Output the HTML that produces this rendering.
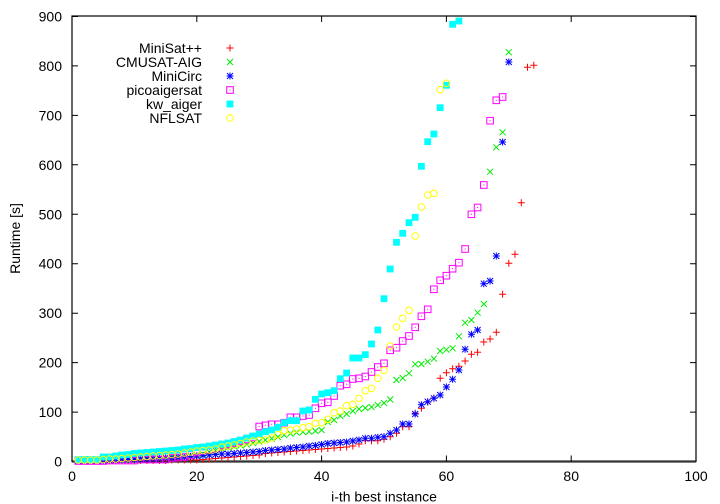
<!DOCTYPE html>
<html><head><meta charset="utf-8"><style>
html,body{margin:0;padding:0;background:#fff;}
svg{display:block;}
text{font-family:"Liberation Sans",Arial,sans-serif;font-size:14px;fill:#000;}
</style></head><body>
<svg width="720" height="504" viewBox="0 0 720 504" xmlns="http://www.w3.org/2000/svg">
<defs>
<path id="r" d="M-3.5 0H3.5M0-3.5V3.5" stroke="#ff0000" stroke-width="1" fill="none"/>
<path id="g" d="M-3 -3L3 3M-3 3L3 -3" stroke="#00ee00" stroke-width="1" fill="none"/>
<path id="b" d="M-3.5 0H3.5M0-3.5V3.5M-3 -3L3 3M-3 3L3 -3" stroke="#0000ff" stroke-width="1" fill="none"/>
<g id="m"><rect x="-3.3" y="-3.3" width="6.6" height="6.6" stroke="#ff00ff" stroke-width="1" fill="none"/><rect x="-0.5" y="-0.5" width="1" height="1" fill="#ff00ff"/></g>
<rect id="c" x="-3.4" y="-3.4" width="6.8" height="6.8" fill="#00ffff"/>
<circle id="y" r="3.3" stroke="#ffff00" stroke-width="1" fill="none"/>
</defs>
<rect width="720" height="504" fill="#fff"/>

<!-- border -->
<rect x="72" y="16" width="624" height="445.5" fill="none" stroke="#000" stroke-width="1.2"/>
<line x1="72" y1="461.5" x2="696" y2="461.5" stroke="#333" stroke-width="2.2"/>

<!-- ticks -->
<g stroke="#000" stroke-width="1">
<path d="M72 461.5v-6M196.8 461.5v-6M321.6 461.5v-6M446.4 461.5v-6M571.2 461.5v-6M696 461.5v-6"/>
<path d="M72 16v6M196.8 16v6M321.6 16v6M446.4 16v6M571.2 16v6M696 16v6"/>
<path d="M72 412.1h6M72 362.6h6M72 313.2h6M72 263.7h6M72 214.3h6M72 164.8h6M72 115.4h6M72 65.9h6M72 16.5h6"/>
<path d="M696 412.1h-6M696 362.6h-6M696 313.2h-6M696 263.7h-6M696 214.3h-6M696 164.8h-6M696 115.4h-6M696 65.9h-6M696 16.5h-6"/>
</g>

<!-- y tick labels -->
<g text-anchor="end">
<text x="62" y="466.5">0</text>
<text x="62" y="417.1">100</text>
<text x="62" y="367.6">200</text>
<text x="62" y="318.2">300</text>
<text x="62" y="268.7">400</text>
<text x="62" y="219.3">500</text>
<text x="62" y="169.8">600</text>
<text x="62" y="120.4">700</text>
<text x="62" y="70.9">800</text>
<text x="62" y="21.5">900</text>
</g>
<!-- x tick labels -->
<g text-anchor="middle">
<text x="72" y="481">0</text>
<text x="196.8" y="481">20</text>
<text x="321.6" y="481">40</text>
<text x="446.4" y="481">60</text>
<text x="571.2" y="481">80</text>
<text x="696" y="481">100</text>
<text x="384" y="501.5">i-th best instance</text>
</g>
<text text-anchor="middle" transform="translate(20,238.5) rotate(-90)">Runtime [s]</text>

<!-- legend -->
<g text-anchor="end">
<text x="202" y="53">MiniSat++</text>
<text x="202" y="67">CMUSAT-AIG</text>
<text x="202" y="81">MiniCirc</text>
<text x="202" y="95">picoaigersat</text>
<text x="202" y="109">kw_aiger</text>
<text x="202" y="123">NFLSAT</text>
</g>
<use href="#r" x="230" y="48"/>
<use href="#g" x="230" y="62"/>
<use href="#b" x="230" y="76"/>
<use href="#m" x="230" y="90"/>
<use href="#c" x="230" y="104"/>
<use href="#y" x="230" y="118"/>

<!-- MiniSat++ -->
<g>
<use href="#r" x="78.2" y="461"/><use href="#r" x="84.5" y="461"/><use href="#r" x="90.7" y="461"/><use href="#r" x="97.0" y="461"/><use href="#r" x="103.2" y="461"/><use href="#r" x="109.4" y="461"/><use href="#r" x="115.7" y="461"/><use href="#r" x="121.9" y="461"/><use href="#r" x="128.2" y="461"/><use href="#r" x="134.4" y="461"/>
<use href="#r" x="140.6" y="460.5"/><use href="#r" x="146.9" y="460.5"/><use href="#r" x="153.1" y="460.5"/><use href="#r" x="159.4" y="460.5"/><use href="#r" x="165.6" y="460.5"/><use href="#r" x="171.8" y="460"/><use href="#r" x="178.1" y="460"/><use href="#r" x="184.3" y="460"/><use href="#r" x="190.6" y="460"/><use href="#r" x="196.8" y="460"/>
<use href="#r" x="203.0" y="459.5"/><use href="#r" x="209.3" y="459"/><use href="#r" x="215.5" y="458.5"/><use href="#r" x="221.8" y="458"/><use href="#r" x="228.0" y="457.5"/><use href="#r" x="234.2" y="457"/><use href="#r" x="240.5" y="456.5"/><use href="#r" x="246.7" y="456"/><use href="#r" x="253.0" y="455.5"/><use href="#r" x="259.2" y="455"/>
<use href="#r" x="265.4" y="453.5"/><use href="#r" x="271.7" y="453"/><use href="#r" x="277.9" y="452.5"/><use href="#r" x="284.2" y="452"/><use href="#r" x="290.4" y="451.5"/><use href="#r" x="296.6" y="451"/><use href="#r" x="302.9" y="450.5"/><use href="#r" x="309.1" y="450"/><use href="#r" x="315.4" y="449.5"/><use href="#r" x="321.6" y="449"/>
<use href="#r" x="327.8" y="448.5"/><use href="#r" x="334.1" y="448"/><use href="#r" x="340.3" y="447.5"/><use href="#r" x="346.6" y="447"/><use href="#r" x="352.8" y="446"/><use href="#r" x="359.0" y="444"/><use href="#r" x="365.3" y="440.7"/><use href="#r" x="371.5" y="440.7"/><use href="#r" x="377.8" y="440.7"/><use href="#r" x="384.0" y="439.3"/>
<use href="#r" x="390.2" y="436.7"/><use href="#r" x="396.5" y="433.3"/><use href="#r" x="402.7" y="426.7"/><use href="#r" x="409.0" y="426.7"/><use href="#r" x="415.2" y="413.3"/><use href="#r" x="421.4" y="408.3"/><use href="#r" x="427.7" y="402"/><use href="#r" x="433.9" y="398"/><use href="#r" x="440.2" y="378.3"/><use href="#r" x="446.4" y="372.7"/>
<use href="#r" x="452.6" y="368.7"/><use href="#r" x="458.9" y="366.3"/><use href="#r" x="465.1" y="361"/><use href="#r" x="471.4" y="354.3"/><use href="#r" x="477.6" y="352.3"/><use href="#r" x="483.8" y="342"/><use href="#r" x="490.1" y="339"/><use href="#r" x="496.3" y="332.3"/><use href="#r" x="502.6" y="294.3"/><use href="#r" x="508.8" y="263.3"/>
<use href="#r" x="515.0" y="254.3"/><use href="#r" x="521.3" y="202.7"/><use href="#r" x="527.5" y="67.3"/><use href="#r" x="533.8" y="65.3"/>
</g>

<!-- CMUSAT-AIG -->
<g>
<use href="#g" x="78.2" y="461"/><use href="#g" x="84.5" y="461"/><use href="#g" x="90.7" y="461"/><use href="#g" x="97.0" y="461"/><use href="#g" x="103.2" y="461"/><use href="#g" x="109.4" y="460.5"/><use href="#g" x="115.7" y="460"/><use href="#g" x="121.9" y="460"/><use href="#g" x="128.2" y="459.5"/><use href="#g" x="134.4" y="459"/>
<use href="#g" x="140.6" y="459"/><use href="#g" x="146.9" y="458.5"/><use href="#g" x="153.1" y="458"/><use href="#g" x="159.4" y="458"/><use href="#g" x="165.6" y="457.5"/><use href="#g" x="171.8" y="457"/><use href="#g" x="178.1" y="457"/><use href="#g" x="184.3" y="456.5"/><use href="#g" x="190.6" y="455.5"/><use href="#g" x="196.8" y="455"/>
<use href="#g" x="203.0" y="454"/><use href="#g" x="209.3" y="452"/><use href="#g" x="215.5" y="450.5"/><use href="#g" x="221.8" y="449"/><use href="#g" x="228.0" y="447.5"/><use href="#g" x="234.2" y="446.5"/><use href="#g" x="240.5" y="445.5"/><use href="#g" x="246.7" y="444.5"/><use href="#g" x="253.0" y="443"/><use href="#g" x="259.2" y="441.5"/>
<use href="#g" x="265.4" y="440"/><use href="#g" x="271.7" y="438.5"/><use href="#g" x="277.9" y="437"/><use href="#g" x="284.2" y="435"/><use href="#g" x="290.4" y="433.5"/><use href="#g" x="296.6" y="432.5"/><use href="#g" x="302.9" y="432"/><use href="#g" x="309.1" y="431.5"/><use href="#g" x="315.4" y="431"/><use href="#g" x="321.6" y="430"/>
<use href="#g" x="327.8" y="422"/><use href="#g" x="334.1" y="420"/><use href="#g" x="340.3" y="416"/><use href="#g" x="346.6" y="414"/><use href="#g" x="352.8" y="411"/><use href="#g" x="359.0" y="409"/><use href="#g" x="365.3" y="408"/><use href="#g" x="371.5" y="407"/><use href="#g" x="377.8" y="405"/><use href="#g" x="384.0" y="403"/>
<use href="#g" x="390.2" y="399.5"/><use href="#g" x="396.5" y="380"/><use href="#g" x="402.7" y="378"/><use href="#g" x="409.0" y="373.3"/><use href="#g" x="415.2" y="364.3"/><use href="#g" x="421.4" y="364"/><use href="#g" x="427.7" y="361.7"/><use href="#g" x="433.9" y="358.7"/><use href="#g" x="440.2" y="351"/><use href="#g" x="446.4" y="349.7"/>
<use href="#g" x="452.6" y="348.3"/><use href="#g" x="458.9" y="336.3"/><use href="#g" x="465.1" y="322.7"/><use href="#g" x="471.4" y="320"/><use href="#g" x="477.6" y="312.7"/><use href="#g" x="483.8" y="304"/><use href="#g" x="490.1" y="171.7"/><use href="#g" x="496.3" y="147.3"/><use href="#g" x="502.6" y="132.3"/><use href="#g" x="508.8" y="52.3"/>
</g>

<!-- MiniCirc -->
<g>
<use href="#b" x="78.2" y="461"/><use href="#b" x="84.5" y="461"/><use href="#b" x="90.7" y="461"/><use href="#b" x="97.0" y="461"/><use href="#b" x="103.2" y="461"/><use href="#b" x="109.4" y="460.5"/><use href="#b" x="115.7" y="460.5"/><use href="#b" x="121.9" y="460"/><use href="#b" x="128.2" y="459.5"/><use href="#b" x="134.4" y="459.5"/>
<use href="#b" x="140.6" y="459"/><use href="#b" x="146.9" y="459"/><use href="#b" x="153.1" y="458.5"/><use href="#b" x="159.4" y="458.5"/><use href="#b" x="165.6" y="458"/><use href="#b" x="171.8" y="458"/><use href="#b" x="178.1" y="457.5"/><use href="#b" x="184.3" y="457"/><use href="#b" x="190.6" y="456.5"/><use href="#b" x="196.8" y="456"/>
<use href="#b" x="203.0" y="455.5"/><use href="#b" x="209.3" y="455"/><use href="#b" x="215.5" y="454.5"/><use href="#b" x="221.8" y="454"/><use href="#b" x="228.0" y="454"/><use href="#b" x="234.2" y="453.5"/><use href="#b" x="240.5" y="453"/><use href="#b" x="246.7" y="452.5"/><use href="#b" x="253.0" y="452"/><use href="#b" x="259.2" y="451.5"/>
<use href="#b" x="265.4" y="450.5"/><use href="#b" x="271.7" y="450"/><use href="#b" x="277.9" y="449.5"/><use href="#b" x="284.2" y="449"/><use href="#b" x="290.4" y="448"/><use href="#b" x="296.6" y="447.5"/><use href="#b" x="302.9" y="447"/><use href="#b" x="309.1" y="446"/><use href="#b" x="315.4" y="445.5"/><use href="#b" x="321.6" y="444.5"/>
<use href="#b" x="327.8" y="443.5"/><use href="#b" x="334.1" y="443"/><use href="#b" x="340.3" y="442.5"/><use href="#b" x="346.6" y="442"/><use href="#b" x="352.8" y="441"/><use href="#b" x="359.0" y="440"/><use href="#b" x="365.3" y="438.3"/><use href="#b" x="371.5" y="438.3"/><use href="#b" x="377.8" y="437.3"/><use href="#b" x="384.0" y="436.7"/>
<use href="#b" x="390.2" y="433.3"/><use href="#b" x="396.5" y="430"/><use href="#b" x="402.7" y="424"/><use href="#b" x="409.0" y="424"/><use href="#b" x="415.2" y="414"/><use href="#b" x="421.4" y="404.7"/><use href="#b" x="427.7" y="401.7"/><use href="#b" x="433.9" y="398.3"/><use href="#b" x="440.2" y="395"/><use href="#b" x="446.4" y="387"/>
<use href="#b" x="452.6" y="379.3"/><use href="#b" x="458.9" y="370"/><use href="#b" x="465.1" y="349.3"/><use href="#b" x="471.4" y="334.3"/><use href="#b" x="477.6" y="330"/><use href="#b" x="483.8" y="283.7"/><use href="#b" x="490.1" y="281"/><use href="#b" x="496.3" y="256"/><use href="#b" x="502.6" y="142"/><use href="#b" x="508.8" y="62"/>
</g>

<!-- picoaigersat -->
<g>
<use href="#m" x="78.2" y="461"/><use href="#m" x="84.5" y="461"/><use href="#m" x="90.7" y="461"/><use href="#m" x="97.0" y="461"/><use href="#m" x="103.2" y="461"/><use href="#m" x="109.4" y="460.5"/><use href="#m" x="115.7" y="460.5"/><use href="#m" x="121.9" y="460.5"/><use href="#m" x="128.2" y="460.5"/><use href="#m" x="134.4" y="460.5"/>
<use href="#m" x="140.6" y="459.5"/><use href="#m" x="146.9" y="459.5"/><use href="#m" x="153.1" y="459.5"/><use href="#m" x="159.4" y="459.5"/><use href="#m" x="165.6" y="459.5"/><use href="#m" x="171.8" y="458"/><use href="#m" x="178.1" y="457.5"/><use href="#m" x="184.3" y="457"/><use href="#m" x="190.6" y="455"/><use href="#m" x="196.8" y="452.5"/>
<use href="#m" x="203.0" y="450.5"/><use href="#m" x="209.3" y="449.5"/><use href="#m" x="215.5" y="448.5"/><use href="#m" x="221.8" y="445.5"/><use href="#m" x="228.0" y="444.5"/><use href="#m" x="234.2" y="443"/><use href="#m" x="240.5" y="441"/><use href="#m" x="246.7" y="439.5"/><use href="#m" x="253.0" y="437.5"/><use href="#m" x="259.2" y="426.5"/>
<use href="#m" x="265.4" y="425.3"/><use href="#m" x="271.7" y="424.3"/><use href="#m" x="277.9" y="424.3"/><use href="#m" x="284.2" y="422.7"/><use href="#m" x="290.4" y="417.3"/><use href="#m" x="296.6" y="417.3"/><use href="#m" x="302.9" y="416"/><use href="#m" x="309.1" y="415"/><use href="#m" x="315.4" y="408.3"/><use href="#m" x="321.6" y="403.3"/>
<use href="#m" x="327.8" y="402.3"/><use href="#m" x="334.1" y="396"/><use href="#m" x="340.3" y="385.7"/><use href="#m" x="346.6" y="384.3"/><use href="#m" x="352.8" y="379"/><use href="#m" x="359.0" y="378.3"/><use href="#m" x="365.3" y="376.5"/><use href="#m" x="371.5" y="372"/><use href="#m" x="377.8" y="367"/><use href="#m" x="384.0" y="363.3"/>
<use href="#m" x="390.2" y="350.3"/><use href="#m" x="396.5" y="347.7"/><use href="#m" x="402.7" y="341"/><use href="#m" x="409.0" y="336"/><use href="#m" x="415.2" y="327.3"/><use href="#m" x="421.4" y="316.3"/><use href="#m" x="427.7" y="309.3"/><use href="#m" x="433.9" y="289.3"/><use href="#m" x="440.2" y="280.3"/><use href="#m" x="446.4" y="275.7"/>
<use href="#m" x="452.6" y="268.7"/><use href="#m" x="458.9" y="262.7"/><use href="#m" x="465.1" y="249"/><use href="#m" x="471.4" y="214.3"/><use href="#m" x="477.6" y="207.5"/><use href="#m" x="483.8" y="185"/><use href="#m" x="490.1" y="120.7"/><use href="#m" x="496.3" y="100.3"/><use href="#m" x="502.6" y="97"/>
</g>

<!-- kw_aiger -->
<g>
<use href="#c" x="78.2" y="459.5"/><use href="#c" x="84.5" y="459.5"/><use href="#c" x="90.7" y="459.5"/><use href="#c" x="97.0" y="459.5"/><use href="#c" x="103.2" y="457"/><use href="#c" x="109.4" y="457"/><use href="#c" x="115.7" y="456"/><use href="#c" x="121.9" y="455"/><use href="#c" x="128.2" y="454.5"/><use href="#c" x="134.4" y="453.5"/>
<use href="#c" x="140.6" y="453"/><use href="#c" x="146.9" y="452.5"/><use href="#c" x="153.1" y="452"/><use href="#c" x="159.4" y="451.5"/><use href="#c" x="165.6" y="451"/><use href="#c" x="171.8" y="450.5"/><use href="#c" x="178.1" y="450"/><use href="#c" x="184.3" y="449"/><use href="#c" x="190.6" y="448.5"/><use href="#c" x="196.8" y="447.5"/>
<use href="#c" x="203.0" y="447"/><use href="#c" x="209.3" y="446"/><use href="#c" x="215.5" y="445"/><use href="#c" x="221.8" y="444"/><use href="#c" x="228.0" y="443"/><use href="#c" x="234.2" y="441.5"/><use href="#c" x="240.5" y="440"/><use href="#c" x="246.7" y="438"/><use href="#c" x="253.0" y="436"/><use href="#c" x="259.2" y="434"/>
<use href="#c" x="265.4" y="431.7"/><use href="#c" x="271.7" y="430"/><use href="#c" x="277.9" y="427.3"/><use href="#c" x="284.2" y="422.7"/><use href="#c" x="290.4" y="420.7"/><use href="#c" x="296.6" y="420.7"/><use href="#c" x="302.9" y="411"/><use href="#c" x="309.1" y="410"/><use href="#c" x="315.4" y="399.3"/><use href="#c" x="321.6" y="394"/>
<use href="#c" x="327.8" y="392.7"/><use href="#c" x="334.1" y="390.7"/><use href="#c" x="340.3" y="378.7"/><use href="#c" x="346.6" y="373"/><use href="#c" x="352.8" y="358"/><use href="#c" x="359.0" y="358"/><use href="#c" x="365.3" y="354.7"/><use href="#c" x="371.5" y="344"/><use href="#c" x="377.8" y="330"/><use href="#c" x="384.0" y="298.7"/>
<use href="#c" x="390.2" y="269"/><use href="#c" x="396.5" y="242.3"/><use href="#c" x="402.7" y="233.3"/><use href="#c" x="409.0" y="222.7"/><use href="#c" x="415.2" y="217.3"/><use href="#c" x="421.4" y="166.3"/><use href="#c" x="427.7" y="141.7"/><use href="#c" x="433.9" y="134"/><use href="#c" x="440.2" y="107.7"/><use href="#c" x="446.4" y="85.3"/>
<use href="#c" x="452.6" y="24.3"/><use href="#c" x="458.9" y="21"/>
</g>

<!-- NFLSAT -->
<g>
<use href="#y" x="78.2" y="460"/><use href="#y" x="84.5" y="460"/><use href="#y" x="90.7" y="460"/><use href="#y" x="97.0" y="460"/><use href="#y" x="103.2" y="459.5"/><use href="#y" x="109.4" y="459"/><use href="#y" x="115.7" y="459"/><use href="#y" x="121.9" y="458.5"/><use href="#y" x="128.2" y="458"/><use href="#y" x="134.4" y="457.5"/>
<use href="#y" x="140.6" y="457"/><use href="#y" x="146.9" y="456.5"/><use href="#y" x="153.1" y="456"/><use href="#y" x="159.4" y="455.5"/><use href="#y" x="165.6" y="455"/><use href="#y" x="171.8" y="454.5"/><use href="#y" x="178.1" y="454"/><use href="#y" x="184.3" y="453"/><use href="#y" x="190.6" y="452"/><use href="#y" x="196.8" y="451"/>
<use href="#y" x="203.0" y="450.5"/><use href="#y" x="209.3" y="450"/><use href="#y" x="215.5" y="449"/><use href="#y" x="221.8" y="447"/><use href="#y" x="228.0" y="446"/><use href="#y" x="234.2" y="445"/><use href="#y" x="240.5" y="443.5"/><use href="#y" x="246.7" y="442"/><use href="#y" x="253.0" y="441"/><use href="#y" x="259.2" y="440.5"/>
<use href="#y" x="265.4" y="440"/><use href="#y" x="271.7" y="438"/><use href="#y" x="277.9" y="434.7"/><use href="#y" x="284.2" y="430.7"/><use href="#y" x="290.4" y="430"/><use href="#y" x="296.6" y="429"/><use href="#y" x="302.9" y="427.7"/><use href="#y" x="309.1" y="426.7"/><use href="#y" x="315.4" y="423.3"/><use href="#y" x="321.6" y="422.7"/>
<use href="#y" x="327.8" y="419.3"/><use href="#y" x="334.1" y="412.7"/><use href="#y" x="340.3" y="411"/><use href="#y" x="346.6" y="405.7"/><use href="#y" x="352.8" y="404.3"/><use href="#y" x="359.0" y="398.3"/><use href="#y" x="365.3" y="390.7"/><use href="#y" x="371.5" y="388.3"/><use href="#y" x="377.8" y="378.3"/><use href="#y" x="384.0" y="370.3"/>
<use href="#y" x="390.2" y="346"/><use href="#y" x="396.5" y="327"/><use href="#y" x="402.7" y="318.3"/><use href="#y" x="409.0" y="310.3"/><use href="#y" x="415.2" y="236"/><use href="#y" x="421.4" y="207"/><use href="#y" x="427.7" y="195"/><use href="#y" x="433.9" y="193.3"/><use href="#y" x="440.2" y="89.7"/><use href="#y" x="446.4" y="83.3"/>
</g>
</svg>
</body></html>
